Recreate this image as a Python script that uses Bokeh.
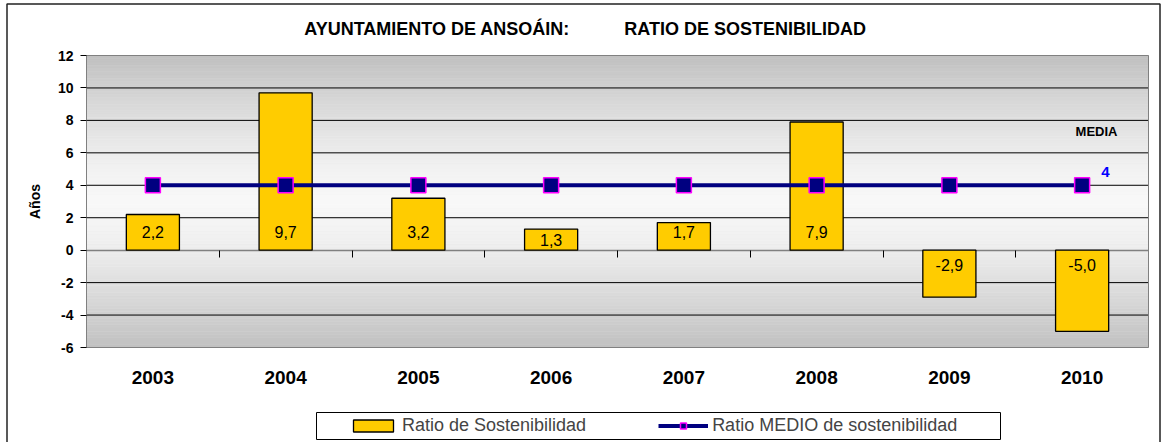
import numpy as np
from bokeh.plotting import figure
from bokeh.models import (Range1d, FixedTicker, LinearAxis, Label, BoxAnnotation,
                          Legend, LegendItem, ColumnDataSource)
from bokeh.core.properties import value
from bokeh.embed import file_html
from bokeh.resources import INLINE

# ---------------- data ----------------
years = ["2003", "2004", "2005", "2006", "2007", "2008", "2009", "2010"]
ratio = [2.2, 9.7, 3.2, 1.3, 1.7, 7.9, -2.9, -5.0]
media = [4, 4, 4, 4, 4, 4, 4, 4]
y_ticks = [-6, -4, -2, 0, 2, 4, 6, 8, 10, 12]
y_tick_labels = ["-6", "-4", "-2", "0", "2", "4", "6", "8", "10", "12"]
title_text = "AYUNTAMIENTO DE ANSOÁIN:" + "\u00a0" * 11 + "RATIO DE SOSTENIBILIDAD"
series_bar = "Ratio de Sostenibilidad"
series_line = "Ratio MEDIO de sostenibilidad"
y_label = "Años"
media_title = "MEDIA"

# ---------------- layout (page pixels) ----------------
FONT = "Liberation Sans"
W, H = 1162, 442
FL, FR, FT, FB = 86, 1148, 55, 347          # plot area
X0, X1 = 0, len(years)
Y0, Y1 = y_ticks[0], y_ticks[-1]
PXX = (FR - FL) / (X1 - X0)
PXY = (FB - FT) / (Y1 - Y0)


def dx(px):
    return X0 + (px - FL) / PXX


def dy(py):
    return Y1 - (py - FT) / PXY


p = figure(width=W, height=H, x_range=Range1d(dx(0), dx(W)), y_range=Range1d(dy(H), dy(0)),
           output_backend="svg", toolbar_location=None,
           x_axis_location=None, y_axis_location=None,
           min_border=0, min_border_left=0, min_border_right=0,
           min_border_top=0, min_border_bottom=0,
           background_fill_color="white", border_fill_color="white")
p.title.visible = False
p.outline_line_color = None
p.xgrid.visible = False
p.ygrid.visible = False

# background gradient of the plot area (light in the middle, grey at the edges)
n = 90
edges = np.linspace(Y0, Y1, n + 1)
mids = (edges[:-1] + edges[1:]) / 2
center = (Y0 + Y1) / 2
t = np.abs(mids - center) / ((Y1 - Y0) / 2)
g = np.round(248 - 56 * t ** 1.4).astype(int)
cols = ["#%02x%02x%02x" % (v, v, v) for v in g]
p.quad(left=X0, right=X1, bottom=edges[:-1], top=edges[1:], fill_color=cols,
       line_color=cols, line_width=0.6, level="image")

# horizontal grid lines limited to the plot area
grid_vals = [v for v in y_ticks if v not in (0, Y0, Y1)]
p.segment(x0=[X0] * len(grid_vals), x1=[X1] * len(grid_vals), y0=grid_vals, y1=grid_vals,
          line_color="black", line_width=1, level="underlay")

# plot area border
p.add_layout(BoxAnnotation(left=X0, right=X1, bottom=Y0, top=Y1, fill_color=None,
                           line_color="#808080", line_width=1, line_alpha=1,
                           level="underlay"))

# y axis
yax = LinearAxis(fixed_location=X0, bounds=(Y0, Y1), ticker=FixedTicker(ticks=y_ticks),
                 major_label_overrides=dict(zip(y_ticks, y_tick_labels)),
                 major_label_text_font=FONT, major_label_text_font_style="bold",
                 major_label_text_font_size="14px", major_label_text_color="black",
                 major_tick_in=0, major_tick_out=6, major_tick_line_color="black",
                 minor_tick_line_color=None, axis_line_color="#808080",
                 major_label_standoff=7, axis_label=y_label, axis_label_text_font=FONT,
                 axis_label_text_font_style="bold", axis_label_text_font_size="14px",
                 axis_label_text_color="black", axis_label_standoff=12)
p.add_layout(yax, "left")

# x axis with the category labels, at the bottom of the plot area
xs = [i + 0.5 for i in range(len(years))]
xax = LinearAxis(fixed_location=Y0, bounds=(X0, X1), ticker=FixedTicker(ticks=xs),
                 major_label_overrides=dict(zip(xs, years)),
                 axis_line_color=None, major_tick_line_color=None,
                 minor_tick_line_color=None, major_label_standoff=17,
                 major_label_text_font=FONT, major_label_text_font_style="bold",
                 major_label_text_font_size="19px", major_label_text_color="black")
p.add_layout(xax, "below")

# zero axis with category boundary ticks
bounds = list(range(len(years) + 1))
zax = LinearAxis(fixed_location=0, bounds=(X0, X1), ticker=FixedTicker(ticks=bounds),
                 major_label_overrides={b: "" for b in bounds},
                 axis_line_color="#808080", axis_line_width=1.5,
                 major_tick_in=0, major_tick_out=7, major_tick_line_color="black",
                 minor_tick_line_color=None, level="underlay")
p.add_layout(zax, "below")

# glyphs
src = ColumnDataSource(dict(x=xs, top=ratio, media=media))
bars = p.vbar(x="x", top="top", bottom=0, width=0.4, source=src,
              fill_color="#FFCC00", line_color="black", line_width=1.3)
line = p.line("x", "media", source=src, line_color="#000080", line_width=4)
marks = p.scatter("x", "media", source=src, marker="square", size=15,
                  fill_color="#000080", line_color="#FF00FF", line_width=1.5)

# bar value labels
lab_txt = [f"{v:.1f}".replace(".", ",") for v in ratio]
pos_off, neg_off, min_h = 18, 15, 24
ly = []
for v in ratio:
    h = abs(v) * PXY
    if v >= 0:
        ly.append(v / 2 if h < min_h else pos_off / PXY)
    else:
        ly.append(-neg_off / PXY)
p.text(x=xs, y=ly, text=lab_txt, text_align="center", text_baseline="middle",
       text_font=value(FONT), text_font_size="16px", text_color="black")

# annotations
p.add_layout(Label(x=dx(1096), y=dy(131), text=media_title, text_align="center",
                   text_baseline="middle", text_font=FONT, text_font_style="bold",
                   text_font_size="13px", text_color="black"))
p.add_layout(Label(x=dx(1105), y=dy(171), text=str(media[-1]), text_align="center",
                   text_baseline="middle", text_font=FONT, text_font_style="bold",
                   text_font_size="15px", text_color="#0000FF"))
p.add_layout(Label(x=dx(585), y=dy(28.5), text=title_text, text_align="center",
                   text_baseline="middle", text_font=FONT, text_font_style="bold",
                   text_font_size="18px", text_color="black"))

# outer chart border (bottom edge runs off the picture, as in the reference)
p.add_layout(BoxAnnotation(left=dx(6.5), right=dx(1159.5), top=dy(3.5), bottom=dy(H + 20),
                           fill_color=None, line_color="#222222", line_width=1.5,
                           line_alpha=1))

# legend box + legend
p.add_layout(BoxAnnotation(left=dx(316), right=dx(1000), top=dy(412), bottom=dy(439),
                           fill_color="white", fill_alpha=1, line_color="black",
                           line_width=1, line_alpha=1))
legend = Legend(items=[LegendItem(label=series_bar, renderers=[bars]),
                       LegendItem(label=series_line, renderers=[line, marks])],
                orientation="horizontal", location=(348, H - 436),
                border_line_color=None, background_fill_alpha=0,
                padding=0, margin=0, spacing=72, glyph_width=50, glyph_height=15,
                label_standoff=4, label_text_font=FONT, label_text_font_size="18px",
                label_height=15)
p.add_layout(legend, "center")

open("out.html", "w").write(file_html(p, INLINE))
